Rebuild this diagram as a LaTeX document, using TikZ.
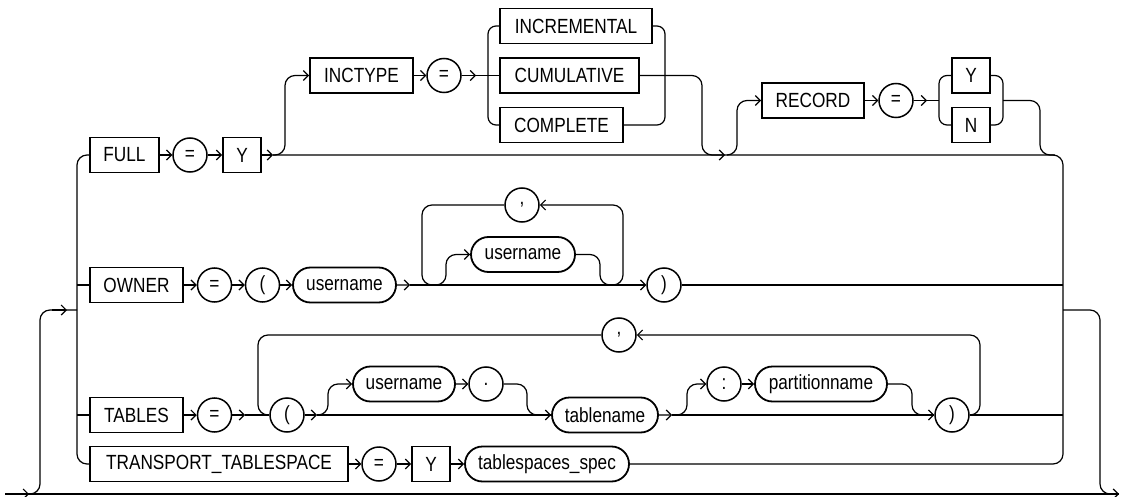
\documentclass[tikz,border=0pt]{standalone}
\usepackage{fontspec}
\setmainfont{Liberation Sans}[FakeStretch=0.84]
\usetikzlibrary{arrows.meta,shapes.misc}
\begin{document}
\begin{tikzpicture}[x=1pt,y=-1pt,
 every node/.style={font=\fontsize{20.5}{24}\selectfont, inner sep=0pt, line width=1.8pt, minimum height=35pt},
 kw/.style={draw, rectangle},
 nt/.style={draw, rounded rectangle},
 sym/.style={draw, circle, minimum size=34pt, line width=1.5pt},
 conn/.style={line width=1.2pt},
 arr/.style={conn, -{Straight Barb[length=5pt,width=10pt]}}
]
\useasboundingbox (0,0) rectangle (1121,497);
% ---- FULL row and its extensions
\node[kw, minimum width=69pt] (full) at (124.5,155) {FULL};
\node[sym] (eqA) at (190,155) {=};
\node[kw, minimum width=38pt] (ya) at (242,155) {Y};
\node[kw, minimum width=103pt] (inctype) at (361.5,75.5) {INCTYPE};
\node[sym] (eqB) at (444,75.5) {=};
\node[kw, minimum width=152pt] (incr) at (576,26) {INCREMENTAL};
\node[kw, minimum width=139pt] (cumul) at (569.5,75.5) {CUMULATIVE};
\node[kw, minimum width=123pt] (compl) at (561.5,125) {COMPLETE};
\node[kw, minimum width=102pt] (record) at (813,100.5) {RECORD};
\node[sym] (eqC) at (896,100.5) {=};
\node[kw, minimum width=38pt] (yc) at (971,75.5) {Y};
\node[kw, minimum width=38pt] (nc) at (971,125) {N};
% ---- OWNER row
\node[kw, minimum width=93pt] (owner) at (136.5,285) {OWNER};
\node[sym] (eqD) at (214.5,285) {=};
\node[sym] (lpD) at (262.5,285) {(};
\node[nt, minimum width=103pt] (unD) at (344.5,285) {username};
\node[sym] (commaD) at (522,205) {,};
\node[nt, minimum width=104pt] (unD2) at (523,254.5) {username};
\node[sym] (rpD) at (664,285) {)};
% ---- TABLES row
\node[kw, minimum width=93pt] (tables) at (136.5,415) {TABLES};
\node[sym] (eqE) at (214.5,415) {=};
\node[sym] (lpE) at (287,415) {(};
\node[nt, minimum width=102pt] (unE) at (404,384) {username};
\node[sym] (dotE) at (486,384) {.};
\node[nt, minimum width=106pt] (tblE) at (605,415) {tablename};
\node[sym] (colE) at (724,384) {:};
\node[nt, minimum width=132pt] (partE) at (821,384) {partitionname};
\node[sym] (rpE) at (952,415) {)};
\node[sym] (commaE) at (619,335) {,};
% ---- TRANSPORT row
\node[kw, minimum width=258pt] (trans) at (219,464) {TRANSPORT\_TABLESPACE};
\node[sym] (eqF) at (379,464) {=};
\node[kw, minimum width=38pt] (yf) at (431,464) {Y};
\node[nt, minimum width=164pt] (tsF) at (547,464) {tablespaces\_spec};

% ---- coordinates
\coordinate (Lc) at (77,0);
\coordinate (Rc) at (1063,0);
\coordinate (j1) at (273,155);
\coordinate (b1) at (285,0);
\coordinate (a2) at (476,75.5);
\coordinate (bl1) at (488,75.5);
\coordinate (br1) at (665,75.5);
\coordinate (c1) at (702,155);
\coordinate (a3) at (725,155);
\coordinate (c2) at (727,155);
\coordinate (b2) at (737,0);
\coordinate (a4) at (927,100.5);
\coordinate (bl2) at (939,100.5);
\coordinate (br2) at (1003,100.5);
\coordinate (c3) at (1040,155);
\coordinate (c3e) at (1055,155);
\coordinate (a5) at (410,285);
\coordinate (c5) at (436,285);
\coordinate (v5) at (446,0);
\coordinate (v6) at (600,0);
\coordinate (c6) at (612,285);
\coordinate (v7) at (623,0);
\coordinate (v8) at (422,0);
\coordinate (a6) at (245,415);
\coordinate (a7) at (317,415);
\coordinate (v9) at (328,0);
\coordinate (v10) at (527,0);
\coordinate (a8) at (672,415);
\coordinate (v11) at (687,0);
\coordinate (v12) at (912,0);
\coordinate (v13) at (980,0);
\coordinate (v14) at (258,0);
\coordinate (in0) at (5,494);
\coordinate (in1) at (29,494);
\coordinate (out1) at (1119,494);
\coordinate (vL) at (40,0);
\coordinate (e0) at (52,310);
\coordinate (e1) at (67,310);
\coordinate (vR) at (1100,0);

% ---- outer frame
\draw[conn] (in0) -- (out1);
\draw[arr] (in0) -- (in1);
\draw[conn, rounded corners=10pt] (in1) -| (vL |- e1) -- (Lc |- e1);
\draw[arr] (e0) -- (e1);
\draw[arr, rounded corners=10pt] (Rc |- e1) -| (vR |- out1) -- (out1);
\draw[conn, rounded corners=10pt] (full.west) -| (Lc |- trans.west) -- (trans.west);
\draw[conn, rounded corners=10pt] (j1) -| (Rc |- tsF.east) -- (tsF.east);

% ---- FULL row
\draw[arr] (full) -- (eqA);
\draw[arr] (eqA) -- (ya);
\draw[arr] (ya) -- (j1);
\draw[arr, rounded corners=10pt] (j1) -| (b1 |- inctype.west) -- (inctype.west);
\draw[arr] (inctype) -- (eqB);
\draw[arr] (eqB) -- (a2);
\draw[conn] (a2) -- (cumul.west);
\draw[conn, rounded corners=8pt] (incr.west) -| (bl1) |- (compl.west);
\draw[conn, rounded corners=8pt] (incr.east) -| (br1) |- (compl.east);
\draw[arr, rounded corners=10pt] (cumul.east) -| (c1) -- (a3);
\draw[arr, rounded corners=10pt] (c2) -| (b2 |- record.west) -- (record.west);
\draw[arr] (record) -- (eqC);
\draw[arr] (eqC) -- (a4);
\draw[conn] (a4) -- (bl2);
\draw[conn, rounded corners=8pt] (yc.west) -| (bl2) |- (nc.west);
\draw[conn, rounded corners=8pt] (yc.east) -| (br2) |- (nc.east);
\draw[conn, rounded corners=10pt] (br2) -| (c3) -- (c3e);

% ---- OWNER row
\draw[conn] (Lc |- owner.west) -- (owner.west);
\draw[arr] (owner) -- (eqD);
\draw[arr] (eqD) -- (lpD);
\draw[arr] (lpD) -- (unD);
\draw[arr] (unD) -- (a5);
\draw[arr] (a5) -- (rpD);
\draw[arr, rounded corners=10pt] (c5) -| (v5 |- unD2.west) -- (unD2.west);
\draw[conn, rounded corners=10pt] (unD2.east) -| (v6 |- c6) -- (c6);
\draw[arr, rounded corners=10pt] (c6) -| (v7 |- commaD.east) -- (commaD.east);
\draw[conn, rounded corners=10pt] (commaD.west) -| (v8 |- c5) -- (c5);
\draw[conn] (rpD.east) -- (Rc |- rpD.east);

% ---- TABLES row
\draw[conn] (Lc |- tables.west) -- (tables.west);
\draw[arr] (tables) -- (eqE);
\draw[arr] (eqE) -- (a6);
\draw[conn] (a6) -- (lpE.west);
\draw[arr] (lpE) -- (a7);
\draw[arr, rounded corners=10pt] (a7) -| (v9 |- unE.west) -- (unE.west);
\draw[arr] (unE) -- (dotE);
\draw[arr, rounded corners=10pt] (dotE.east) -| (v10 |- tblE.west) -- (tblE.west);
\draw[conn] (a7) -- (tblE.west);
\draw[arr] (tblE) -- (a8);
\draw[arr, rounded corners=10pt] (a8) -| (v11 |- colE.west) -- (colE.west);
\draw[arr] (colE) -- (partE);
\draw[arr, rounded corners=10pt] (partE.east) -| (v12 |- rpE.west) -- (rpE.west);
\draw[conn] (a8) -- (rpE.west);
\draw[conn] (rpE.east) -- (Rc |- rpE.east);
\draw[arr, rounded corners=10pt] (rpE.east) -| (v13 |- commaE.east) -- (commaE.east);
\draw[conn, rounded corners=10pt] (commaE.west) -| (v14 |- lpE.west) -- (lpE.west);

% ---- TRANSPORT row
\draw[arr] (trans) -- (eqF);
\draw[arr] (eqF) -- (yf);
\draw[arr] (yf) -- (tsF);
\end{tikzpicture}
\end{document}
